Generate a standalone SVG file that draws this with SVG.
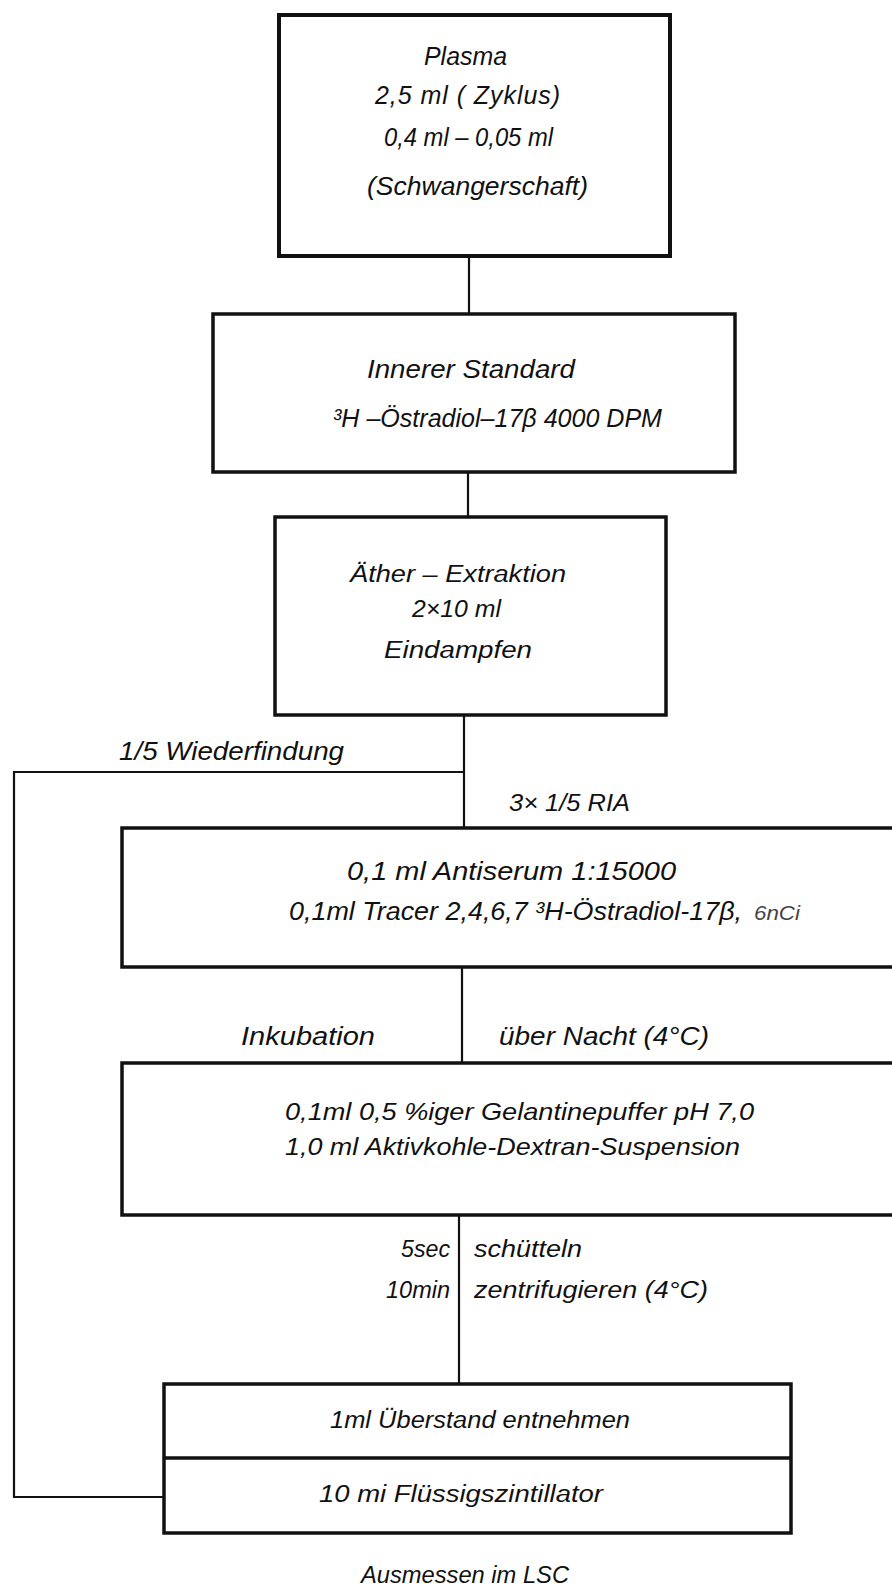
<svg xmlns="http://www.w3.org/2000/svg" width="892" height="1588" viewBox="0 0 892 1588">
<style>
.box{fill:none;stroke:#111;stroke-width:3.5}
.con{fill:none;stroke:#111;stroke-width:2.2}
text{font-family:"Liberation Sans",Arial,sans-serif;font-style:italic;fill:#111}
.t25{font-size:25px}
.t23{font-size:24px}
.t21{font-size:23px}
.faint{font-size:20px;fill:#444}
</style>
<rect width="892" height="1588" fill="#fff"/>
<g id="connectors">
<line class="con" x1="469" y1="257" x2="469" y2="314"/>
<line class="con" x1="468" y1="472" x2="468" y2="517"/>
<line class="con" x1="464" y1="715" x2="464" y2="828"/>
<polyline class="con" points="464,772 14,772 14,1497 164,1497"/>
<line class="con" x1="462" y1="967" x2="462" y2="1063"/>
<line class="con" x1="459" y1="1215" x2="459" y2="1384"/>
</g>
<g id="plasma">
<rect class="box" x="279" y="15" width="391" height="241" style="stroke-width:4"/>
<text class="t25" x="424" y="65" textLength="83" lengthAdjust="spacingAndGlyphs">Plasma</text>
<text class="t25" x="375" y="104" textLength="185" lengthAdjust="spacing">2,5 ml  ( Zyklus)</text>
<text class="t25" x="384" y="146" textLength="169" lengthAdjust="spacingAndGlyphs">0,4 ml – 0,05 ml</text>
<text class="t25" x="367" y="195" textLength="221" lengthAdjust="spacingAndGlyphs">(Schwangerschaft)</text>
</g>
<g id="standard">
<rect class="box" x="213" y="314" width="522" height="158"/>
<text class="t25" x="367" y="378" textLength="208" lengthAdjust="spacingAndGlyphs">Innerer Standard</text>
<text class="t25" x="333" y="427" textLength="329" lengthAdjust="spacingAndGlyphs">³H –Östradiol–17β  4000 DPM</text>
</g>
<g id="extraktion">
<rect class="box" x="275" y="517" width="391" height="198"/>
<text class="t21" x="350" y="582" textLength="216" lengthAdjust="spacingAndGlyphs">Äther – Extraktion</text>
<text class="t21" x="412" y="617" textLength="89" lengthAdjust="spacingAndGlyphs">2×10 ml</text>
<text class="t21" x="384" y="658" textLength="148" lengthAdjust="spacingAndGlyphs">Eindampfen</text>
</g>
<g id="labels1">
<text class="t25" x="119" y="760" textLength="225" lengthAdjust="spacingAndGlyphs">1/5  Wiederfindung</text>
<text class="t23" x="509" y="811" textLength="121" lengthAdjust="spacingAndGlyphs">3× 1/5  RIA</text>
</g>
<g id="antiserum">
<rect class="box" x="122" y="828" width="790" height="139"/>
<text class="t25" x="347" y="880" textLength="329" lengthAdjust="spacingAndGlyphs">0,1 ml  Antiserum  1:15000</text>
<text class="t25" x="289" y="920" textLength="453" lengthAdjust="spacingAndGlyphs">0,1ml  Tracer 2,4,6,7 ³H-Östradiol-17β,</text>
<text class="faint" x="754" y="920" textLength="46" lengthAdjust="spacingAndGlyphs">6nCi</text>
</g>
<g id="labels2">
<text class="t25" x="241" y="1045" textLength="134" lengthAdjust="spacingAndGlyphs">Inkubation</text>
<text class="t25" x="499" y="1045" textLength="210" lengthAdjust="spacingAndGlyphs">über Nacht  (4°C)</text>
</g>
<g id="gelatine">
<rect class="box" x="122" y="1063" width="790" height="152"/>
<text class="t23" x="285" y="1120" textLength="469" lengthAdjust="spacingAndGlyphs">0,1ml  0,5 %iger Gelantinepuffer  pH 7,0</text>
<text class="t23" x="285" y="1155" textLength="455" lengthAdjust="spacingAndGlyphs">1,0 ml  Aktivkohle-Dextran-Suspension</text>
</g>
<g id="labels3">
<text class="t21" x="401" y="1257" textLength="49" lengthAdjust="spacingAndGlyphs">5sec</text>
<text class="t21" x="474" y="1257" textLength="108" lengthAdjust="spacingAndGlyphs">schütteln</text>
<text class="t21" x="386" y="1298" textLength="64" lengthAdjust="spacingAndGlyphs">10min</text>
<text class="t21" x="474" y="1298" textLength="234" lengthAdjust="spacingAndGlyphs">zentrifugieren (4°C)</text>
</g>
<g id="messung">
<rect class="box" x="164" y="1384" width="627" height="149"/>
<line class="box" x1="164" y1="1458" x2="791" y2="1458"/>
<text class="t21" x="330" y="1428" textLength="300" lengthAdjust="spacingAndGlyphs">1ml  Überstand entnehmen</text>
<text class="t21" x="319" y="1502" textLength="284" lengthAdjust="spacingAndGlyphs">10 mi  Flüssigszintillator</text>
</g>
<g id="lsc">
<text class="t21" x="361" y="1583" textLength="208" lengthAdjust="spacingAndGlyphs">Ausmessen im LSC</text>
</g>
</svg>
